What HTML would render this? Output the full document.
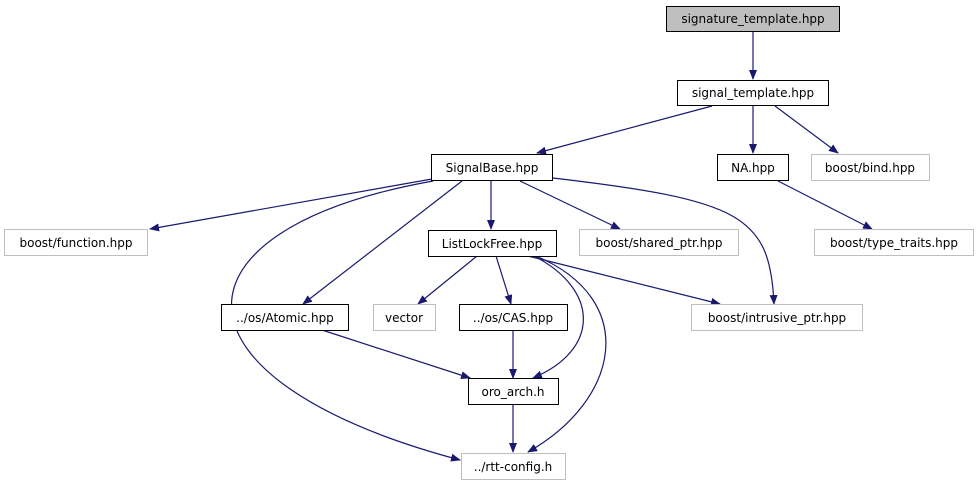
<!DOCTYPE html>
<html><head><meta charset="utf-8"><style>html,body{margin:0;padding:0;background:#fff;}svg{display:block}</style></head>
<body>
<svg width="979" height="485" viewBox="0 0 979 485" xmlns="http://www.w3.org/2000/svg" font-family="DejaVu Sans, Liberation Sans, sans-serif" font-size="12">
<defs>
<marker id="a" markerWidth="10" markerHeight="8" refX="9" refY="4" orient="auto" markerUnits="userSpaceOnUse">
<path d="M0,0 L10,4 L0,8 z" fill="#191970"/>
</marker>
</defs>
<g fill="none" stroke="#191970" stroke-width="1.2" marker-end="url(#a)">
<path d="M753,32 L753,79"/>
<path d="M712,106 L537,153"/>
<path d="M753,106 L753,153"/>
<path d="M775,106 L838,153"/>
<path d="M778,181 L872,229"/>
<path d="M432,179 L150,229"/>
<path d="M491,181 L491,229"/>
<path d="M520,181 L620,229"/>
<path d="M553,178 C740,200 770,215 774,304"/>
<path d="M462,181 L303,304"/>
<path d="M433,181 C160,230 160,380 460,460"/>
<path d="M477,256 L418,304"/>
<path d="M496,256 L511,304"/>
<path d="M528,256 L720,304"/>
<path d="M534,256 C600,290 600,350 533,378"/>
<path d="M536,256 C640,300 620,400 528,452"/>
<path d="M322,330 L470,378"/>
<path d="M513,330 L513,378"/>
<path d="M513,404 L513,452"/>
</g>
<g stroke-width="1" text-anchor="middle" fill="#000">
<rect x="666.5" y="6.5" width="173" height="25" fill="#bfbfbf" stroke="#000"/>
<text x="753" y="23">signature_template.hpp</text>
<rect x="677.5" y="80.5" width="151" height="25" fill="#fff" stroke="#000"/>
<text x="753" y="97">signal_template.hpp</text>
<rect x="431.5" y="154.5" width="121" height="26" fill="#fff" stroke="#000"/>
<text x="492" y="172">SignalBase.hpp</text>
<rect x="717.5" y="154.5" width="71" height="26" fill="#fff" stroke="#000"/>
<text x="753" y="172">NA.hpp</text>
<rect x="811.5" y="154.5" width="118" height="26" fill="#fff" stroke="#bfbfbf"/>
<text x="870" y="172">boost/bind.hpp</text>
<rect x="4.5" y="229.5" width="143" height="26" fill="#fff" stroke="#bfbfbf"/>
<text x="76" y="247">boost/function.hpp</text>
<rect x="428.5" y="230.5" width="128" height="26" fill="#fff" stroke="#000"/>
<text x="492" y="248">ListLockFree.hpp</text>
<rect x="579.5" y="229.5" width="159" height="26" fill="#fff" stroke="#bfbfbf"/>
<text x="659" y="247">boost/shared_ptr.hpp</text>
<rect x="814.5" y="229.5" width="159" height="26" fill="#fff" stroke="#bfbfbf"/>
<text x="894" y="247">boost/type_traits.hpp</text>
<rect x="221.5" y="304.5" width="127" height="26" fill="#fff" stroke="#000"/>
<text x="285" y="322">../os/Atomic.hpp</text>
<rect x="373.5" y="304.5" width="62" height="26" fill="#fff" stroke="#bfbfbf"/>
<text x="404" y="322">vector</text>
<rect x="459.5" y="304.5" width="108" height="26" fill="#fff" stroke="#000"/>
<text x="513" y="322">../os/CAS.hpp</text>
<rect x="691.5" y="304.5" width="171" height="26" fill="#fff" stroke="#bfbfbf"/>
<text x="777" y="322">boost/intrusive_ptr.hpp</text>
<rect x="468.5" y="378.5" width="90" height="26" fill="#fff" stroke="#000"/>
<text x="513" y="396">oro_arch.h</text>
<rect x="461.5" y="453.5" width="104" height="26" fill="#fff" stroke="#bfbfbf"/>
<text x="513" y="471">../rtt-config.h</text>
</g>
</svg>
</body></html>
